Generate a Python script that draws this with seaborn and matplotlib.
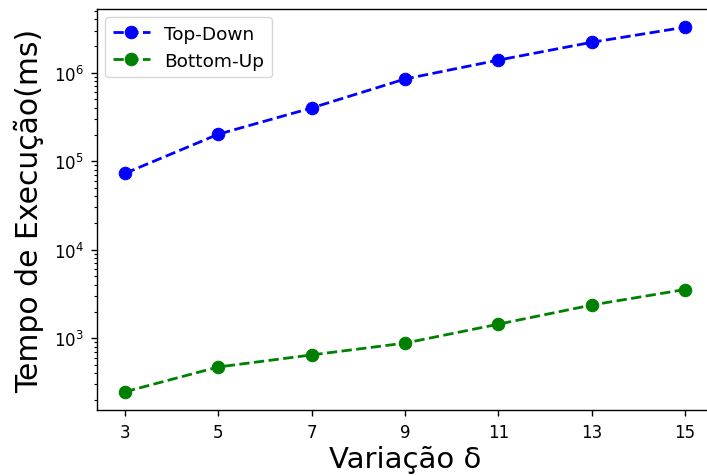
import matplotlib
matplotlib.use("Agg")
import matplotlib.pyplot as plt
import seaborn as sns
import pandas as pd

deltas = [3, 5, 7, 9, 11, 13, 15]
top_down = [73000, 202000, 400000, 850000, 1390000, 2210000, 3270000]
bottom_up = [248, 473, 647, 880, 1440, 2370, 3550]
series_names = ["Top-Down", "Bottom-Up"]
colors = ["blue", "green"]

sns.set_style("ticks")
plt.rcParams['font.family'] = ['DejaVu Sans']
plt.rcParams['text.color'] = 'black'
plt.rcParams['axes.labelcolor'] = 'black'
plt.rcParams['xtick.color'] = 'black'
plt.rcParams['ytick.color'] = 'black'

df = pd.DataFrame({
    "delta": deltas * 2,
    "tempo": top_down + bottom_up,
    "serie": [series_names[0]] * len(deltas) + [series_names[1]] * len(deltas),
})

fig = plt.figure(figsize=(7.07, 4.77), dpi=100)
ax = fig.add_axes([97 / 707, 1 - 411 / 477, (713 - 97) / 707, (411 - 10) / 477])

for name, col in zip(series_names, colors):
    sub = df[df["serie"] == name]
    sns.lineplot(data=sub, x="delta", y="tempo", ax=ax, color=col, linestyle="--",
                 marker="o", markersize=9, markeredgecolor=col, linewidth=2, label=name)

ax.set_yscale("log")
ax.set_xticks(deltas)
ax.set_xlabel("Variação δ", fontsize=21, labelpad=3)
ax.set_ylabel("Tempo de Execução(ms)", fontsize=21.5, labelpad=7)
ax.tick_params(axis="both", which="major", labelsize=12, length=4.5, width=1,
               color="black", labelcolor="black", pad=5)
ax.tick_params(axis="y", which="minor", length=2.5, width=0.8, color="black")
for s in ax.spines.values():
    s.set_color("black")
    s.set_linewidth(1)
leg = ax.legend(loc="upper left", fontsize=13.3, frameon=True, borderaxespad=0.45)
for t in leg.get_texts():
    t.set_color("black")

fig.savefig("out.png", dpi=100)
